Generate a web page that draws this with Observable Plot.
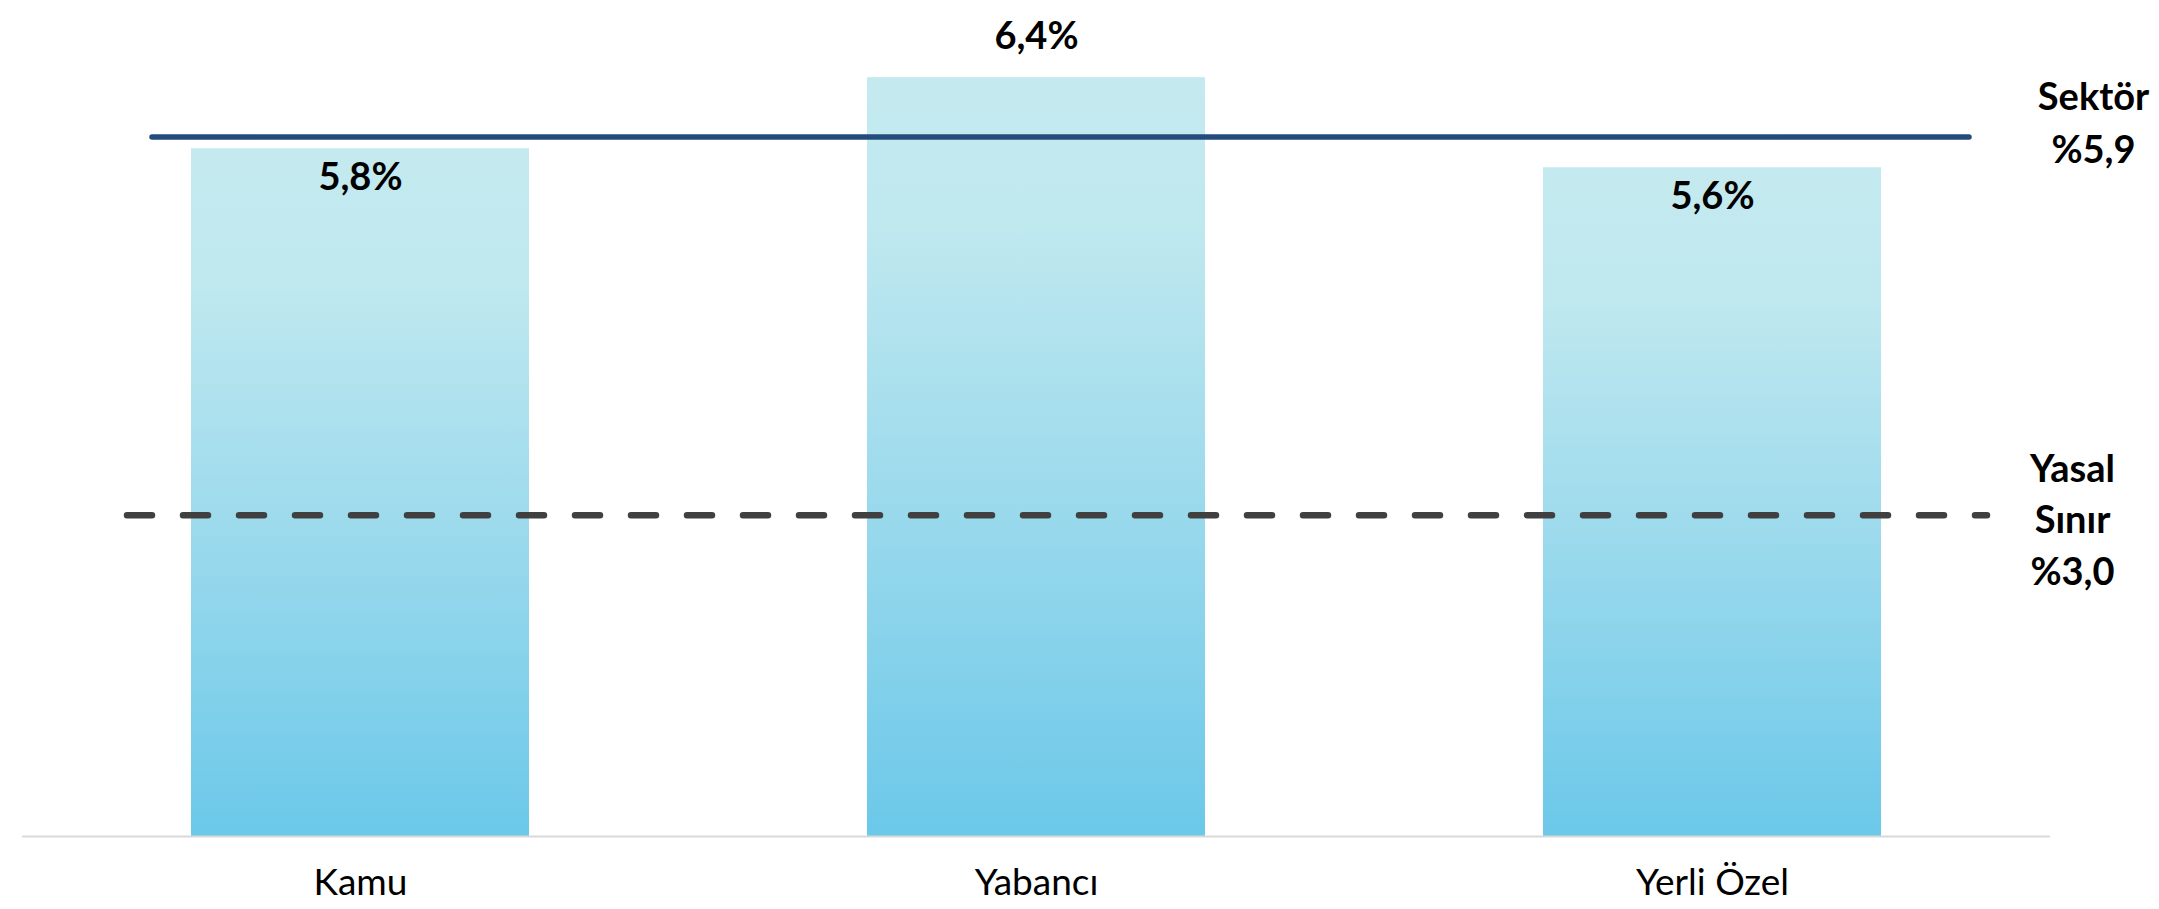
<!DOCTYPE html>
<html><head><meta charset="utf-8">
<script src="https://cdn.jsdelivr.net/npm/d3@7"></script>
<script src="https://cdn.jsdelivr.net/npm/@observablehq/plot@0.6"></script>
<style>body{margin:0;background:#fff} svg{display:block}</style>
</head><body><div id="chart"></div>
<script>
// ---- data ----
const categories = ["Kamu", "Yabancı", "Yerli Özel"];
const values = [5.8, 6.4, 5.64];
const valueLabels = ["5,8%", "6,4%", "5,6%"];
const sectorValue = 5.9;
const sectorLabel = "Sektör\n%5,9";
const legalLimitDrawn = 2.71; // where the dashed line sits on the bar scale in the picture
const legalLabel = "Yasal\nSınır\n%3,0";
const yDomain = [0, 7];

const data = categories.map((c, i) => ({cat: c, value: values[i], label: valueLabels[i], above: values[i] > sectorValue}));

const W = 2159, H = 909;
const font = "Lato, 'Open Sans', sans-serif";

const chart = Plot.plot({
  width: W, height: H,
  marginLeft: 22, marginRight: 109, marginTop: 6, marginBottom: 73,
  style: {fontFamily: font, background: "#fff", color: "#000"},
  x: {domain: categories, paddingInner: 0.5, paddingOuter: 0.25, axis: null},
  y: {domain: yDomain, axis: null},
  marks: [
    Plot.barY(data, {x: "cat", y: "value", fill: "url(#barGrad)"}),
    Plot.ruleY([0], {stroke: "#d9d9d9", strokeWidth: 2}),
    Plot.ruleY([sectorValue], {stroke: "#244b7c", strokeWidth: 5.5, strokeLinecap: "round", insetLeft: 130, insetRight: 81}),
    Plot.ruleY([legalLimitDrawn], {stroke: "#404040", strokeWidth: 6.5, strokeLinecap: "round", strokeDasharray: "25,31", insetLeft: 105, insetRight: 63}),
    Plot.text(data.filter(d => !d.above), {x: "cat", y: "value", text: "label", lineAnchor: "bottom", dy: 41, fontSize: 38, fontWeight: 700, fill: "#000"}),
    Plot.text(data.filter(d => d.above), {x: "cat", y: "value", text: "label", lineAnchor: "bottom", dy: -29, fontSize: 38, fontWeight: 700, fill: "#000"}),
    Plot.text(data, {x: "cat", text: "cat", frameAnchor: "bottom", lineAnchor: "bottom", dy: 58, fontSize: 37, fontWeight: 400, fill: "#000"}),
    Plot.text([{v: sectorValue, t: sectorLabel}], {y: "v", text: "t", frameAnchor: "right", textAnchor: "middle", lineAnchor: "bottom", lineHeight: 1.37, dx: 43, dy: 25.6, fontSize: 38, fontWeight: 700, fill: "#000"}),
    Plot.text([{v: legalLimitDrawn, t: legalLabel}], {y: "v", text: "t", frameAnchor: "right", textAnchor: "middle", lineAnchor: "bottom", lineHeight: 1.36, dx: 22, dy: 70, fontSize: 38, fontWeight: 700, fill: "#000"})
  ]
});

const svg = d3.select(chart);
const grad = svg.insert("defs", ":first-child").append("linearGradient")
  .attr("id", "barGrad").attr("x1", 0).attr("y1", 0).attr("x2", 0).attr("y2", 1);
[[0, "#c4eaef"], [0.2, "#bfe8ef"], [0.6, "#97d8ec"], [1, "#6bc8e9"]].forEach(([o, c]) =>
  grad.append("stop").attr("offset", o).attr("stop-color", c));

document.getElementById("chart").appendChild(chart);
</script>
</body></html>
